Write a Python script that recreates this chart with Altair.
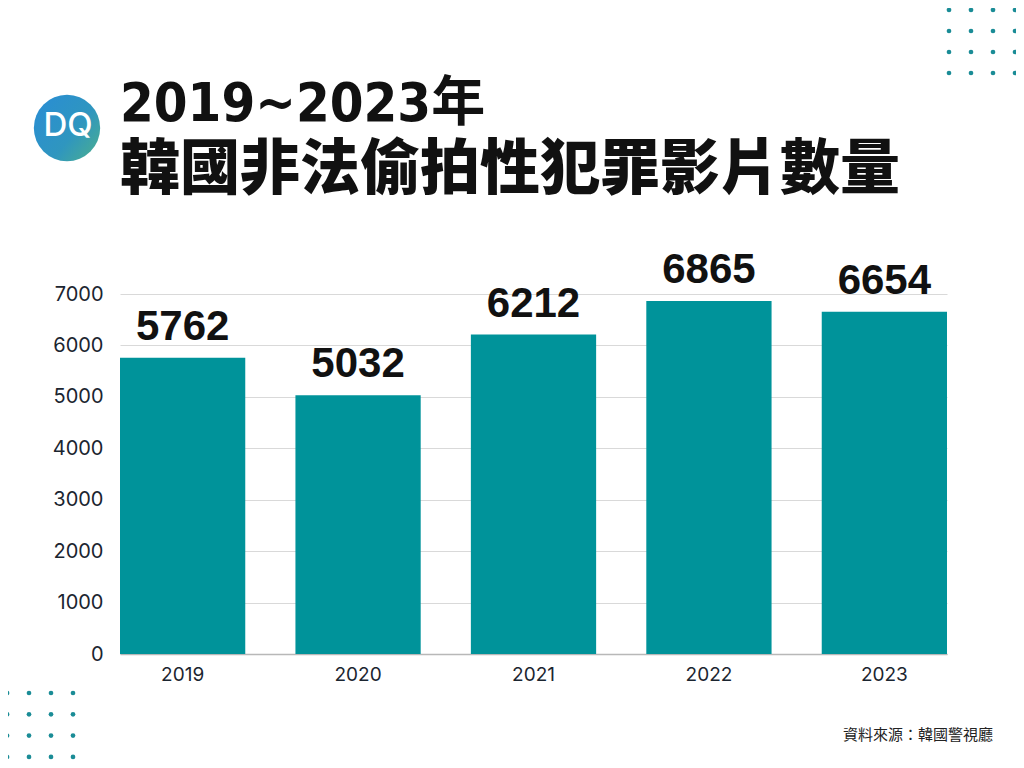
import altair as alt
import pandas as pd

years = ["2019", "2020", "2021", "2022", "2023"]
counts = [5762, 5032, 6212, 6865, 6654]
y_ticks = [0, 1000, 2000, 3000, 4000, 5000, 6000, 7000]
title_line1 = "2019~2023年"
title_line2 = "韓國非法偷拍性犯罪影片數量"
source_text = "資料來源：韓國警視廳"
logo_text = "DQ"

BAR = "#00939a"
DOT = "#1a8c96"

df = pd.DataFrame({"year": years, "count": counts})

# plot-area geometry (canvas coords; page has 8px margin)
PL, PT = 112, 286
W, H = 827, 360

xenc = alt.X("year:N", sort=years,
             scale=alt.Scale(paddingInner=0.286, paddingOuter=0),
             axis=alt.Axis(title=None, labelAngle=0, labelFont="Inter", labelFontSize=19,
                           labelColor="#1b2530", labelPadding=11, ticks=False,
                           domain=True, domainColor="#b8b8b8", domainWidth=1.5, grid=False))
yenc = alt.Y("count:Q", scale=alt.Scale(domain=[0, 7000], nice=False),
             axis=alt.Axis(title=None, values=y_ticks, format="d", labelFont="Inter",
                           labelFontSize=20, labelColor="#1b2530", labelPadding=17,
                           ticks=False, domain=False, gridColor="#d9d9d9", gridWidth=1))

bars = alt.Chart(df).mark_bar(color=BAR).encode(x=xenc, y=yenc)
labels = alt.Chart(df).mark_text(font="Liberation Sans", fontWeight="bold", fontSize=42,
                                 baseline="bottom", dy=-9, color="#111111").encode(
    x=alt.X("year:N", sort=years), y="count:Q", text="count:Q")

# decorative dot grids
dots = []
for i in range(4):
    for j in range(4):
        dots.append({"dx": 949 + i * 22 - 8 - PL, "dy": 10 + j * 21 - 8 - PT})
        dots.append({"dx": 7 + i * 22 - 8 - PL, "dy": 693 + j * 21.3 - 8 - PT})
dots_df = pd.DataFrame(dots)
dot_layer = alt.Chart(dots_df).mark_circle(color=DOT, size=22, opacity=1).encode(
    x=alt.X("dx:Q", scale=None), y=alt.Y("dy:Q", scale=None))

logo = alt.Chart(pd.DataFrame({"a": [1]})).mark_point(
    filled=True, shape="circle", size=4400, opacity=1,
    fill=alt.LinearGradient(gradient="linear", x1=0, y1=0.2, x2=1, y2=1,
                            stops=[alt.GradientStop(color="#2a8ed2", offset=0),
                                   alt.GradientStop(color="#2f96bf", offset=0.55),
                                   alt.GradientStop(color="#4db08c", offset=1)])
).encode(x=alt.value(67 - 8 - PL), y=alt.value(128 - 8 - PT))

logo_txt = alt.Chart(pd.DataFrame({"t": [logo_text]})).mark_text(
    font="Inter", fontSize=33, fontWeight=500, color="white", align="center", baseline="middle"
).encode(x=alt.value(68 - 8 - PL), y=alt.value(126 - 8 - PT), text="t:N")

t1 = alt.Chart(pd.DataFrame({"t": [title_line1]})).mark_text(
    font="DejaVu Sans Condensed, Noto Sans CJK TC", fontSize=54, fontWeight="bold",
    color="#111111", align="left", baseline="alphabetic"
).encode(x=alt.value(120 - 8 - PL), y=alt.value(121 - 8 - PT), text="t:N")

t2 = alt.Chart(pd.DataFrame({"t": [title_line2]})).mark_text(
    font="Noto Sans CJK TC", fontSize=60, fontWeight=900,
    color="#111111", align="left", baseline="alphabetic"
).encode(x=alt.value(120 - 8 - PL), y=alt.value(189 - 8 - PT), text="t:N")

src = alt.Chart(pd.DataFrame({"t": [source_text]})).mark_text(
    font="Noto Sans CJK TC", fontSize=15, color="#222222", align="right", baseline="middle"
).encode(x=alt.value(993 - 8 - PL), y=alt.value(735 - 8 - PT), text="t:N")

chart = alt.layer(bars, labels, dot_layer, logo, logo_txt, t1, t2, src).properties(
    width=W, height=H,
    autosize=alt.AutoSizeParams(type="none"),
    padding={"left": PL, "top": PT, "right": 1008 - PL - W, "bottom": 752 - PT - H},
    background="white",
).configure_view(stroke=None)

chart.save("out.html", embed_options={"renderer": "svg", "actions": False})
